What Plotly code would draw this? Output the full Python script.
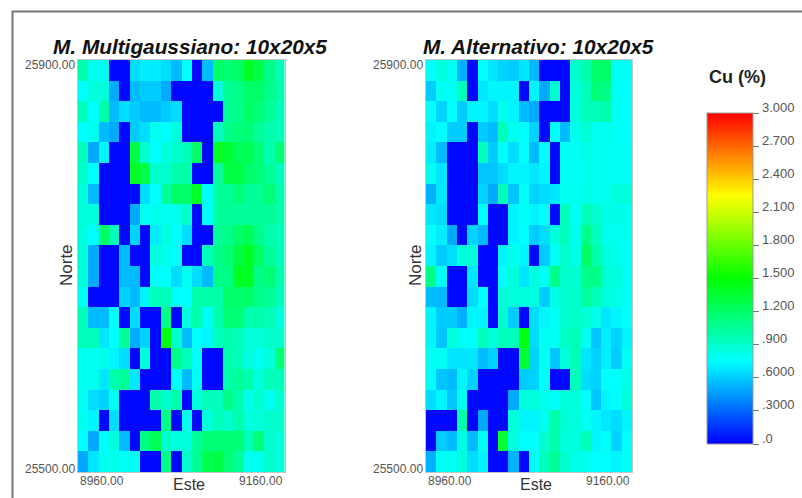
import plotly.graph_objects as go

B = 0.02
este = [8965 + 10 * i for i in range(20)]
norte = [25890 - 20 * i for i in range(20)]
cbar_ticks = [0, .3, .6, .9, 1.2, 1.5, 1.8, 2.1, 2.4, 2.7, 3.0]
cbar_labels = [".0", ".3000", ".6000", ".900", "1.200", "1.500", "1.800", "2.100", "2.400", "2.700", "3.000"]

multigaussiano = [
    [1.0, .8, .8, B, B, .65, .7, .7, .65, .55, .75, B, .55, 1.2, 1.15, 1.2, 1.4, 1.3, 1.1, .95],
    [.75, .85, .85, .5, B, .55, .6, .6, .5, B, B, B, B, .85, 1.05, 1.1, 1.2, 1.2, 1.1, 1.0],
    [.95, .75, 1.0, .55, .65, .6, .55, .55, .6, .65, B, B, B, B, 1.05, 1.1, 1.2, 1.15, 1.05, .95],
    [.75, .8, .55, .5, B, .6, .65, .8, .75, .85, B, B, B, .95, 1.1, 1.15, 1.15, 1.05, 1.0, .95],
    [.95, .5, .72, B, B, 1.3, .9, .75, .85, .9, .95, 1.2, B, 1.4, 1.35, 1.25, 1.25, 1.15, 1.0, 1.15],
    [.9, .75, B, B, B, 1.4, 1.3, .9, .9, 1.0, 1.0, B, B, 1.05, 1.3, 1.3, 1.2, 1.15, 1.05, .95],
    [.85, .55, B, B, B, B, .65, .75, 1.05, 1.2, 1.2, 1.4, .75, 1.05, 1.05, 1.15, 1.05, 1.05, 1.15, 1.0],
    [.85, .85, B, B, B, .5, .78, .8, .8, .8, .9, B, .75, 1.05, 1.05, 1.05, 1.05, 1.05, 1.05, 1.0],
    [.85, .75, 1.2, .95, B, .62, B, .7, .85, .75, .65, B, B, 1.05, 1.1, 1.2, 1.25, 1.1, 1.0, .95],
    [.85, .5, B, B, .55, B, B, .85, .8, .75, B, B, .95, 1.1, 1.15, 1.3, 1.4, 1.2, 1.05, .95],
    [.85, .5, B, B, .55, .55, B, .75, .75, .65, .8, .65, .55, 1.1, 1.1, 1.4, 1.4, 1.1, 1.15, 1.0],
    [.78, B, B, B, .62, .55, .72, .95, .95, .75, .75, 1.0, 1.0, 1.0, 1.2, 1.2, 1.2, 1.1, 1.05, .95],
    [.95, .55, .55, .75, B, .65, B, B, 1.1, B, .85, 1.0, .8, 1.0, 1.15, 1.15, 1.0, 1.0, .95, .85],
    [.95, .95, .68, .75, 1.05, .5, .62, B, 1.45, .9, .55, .75, .72, .95, 1.0, .95, .85, .85, .9, .9],
    [.8, .8, .8, .72, .65, B, .85, B, B, 1.1, .95, .75, B, B, 1.0, .95, .85, .8, .85, 1.15],
    [.8, .8, .68, 1.0, 1.05, .68, B, B, B, .75, .55, .78, B, B, 1.0, 1.05, 1.0, .85, .95, .95],
    [.8, .65, .62, .8, B, B, B, 1.0, .9, 1.0, B, .85, .95, .95, 1.1, 1.0, .8, .9, .8, .9],
    [.8, .72, B, .65, B, B, B, B, 1.1, B, .8, B, .85, .95, .9, 1.0, .85, .85, .9, .9],
    [.75, .5, .75, .85, .55, B, 1.1, 1.25, .9, .85, .85, 1.05, 1.15, 1.15, 1.15, 1.15, .95, 1.15, .9, .85],
    [.5, .68, .8, .8, .78, .78, B, B, 1.1, B, .9, 1.05, 1.25, 1.3, 1.15, 1.05, .8, .8, .9, .85],
]

alternativo = [
    [.75, .85, .78, .52, B, .75, .68, .62, .6, .68, .55, B, B, B, .9, 1.0, 1.2, 1.2, .78, .78],
    [.6, .78, .78, .95, B, .68, .72, .72, .72, B, .72, .5, .9, B, .85, .95, 1.15, 1.1, .78, .75],
    [.75, .62, .75, .6, .72, .72, .65, .8, .72, .55, .5, B, B, B, .85, .95, .95, 1.0, .78, .75],
    [.72, .75, .6, .6, B, .6, .55, .95, .8, .75, .62, B, .75, .55, .8, .88, .8, .8, .78, .75],
    [.7, .55, B, B, B, .95, .6, .75, .65, .75, .55, .75, B, .78, .78, .82, .8, .8, .78, .78],
    [.8, .68, B, B, B, .58, .58, .65, .72, .72, .68, .72, B, .78, .78, .8, .8, .8, .78, .78],
    [.52, .68, B, B, B, .62, .5, .95, .58, .78, .62, .65, .68, .8, .8, .82, .8, .8, .85, .85],
    [.68, .65, B, B, B, .75, B, B, .72, .78, .72, .75, B, .95, .78, .95, .9, .82, .82, .8],
    [.75, .7, .5, B, .62, .55, B, B, .72, .75, .6, .65, .85, .95, .8, 1.1, .95, .8, .8, .8],
    [.72, .6, .65, .85, .85, B, B, .72, .8, .72, B, .6, .78, .9, .82, 1.2, 1.0, .85, .8, .78],
    [1.1, .78, B, B, .68, B, B, .75, .85, .68, .85, .78, 1.1, .9, .9, 1.1, 1.1, .88, .85, .78],
    [.55, .55, B, B, .65, .75, B, .88, .85, .85, .85, .6, .82, .88, .9, 1.05, .95, .85, .82, .78],
    [.72, .6, .6, .52, .72, .72, B, .9, .6, B, .65, .72, .78, .88, .9, .88, .8, .68, .72, .75],
    [.72, .58, .85, .78, .75, .95, .85, .95, .95, 1.45, .65, .78, .78, .92, .95, .78, .58, .7, .62, .72],
    [.78, .78, .68, .68, .68, .55, .62, B, B, 1.35, .62, .78, .58, .85, .95, .68, .62, .7, .6, .78],
    [.75, .58, .55, .72, .62, B, B, B, B, .6, .62, .75, B, B, .95, .65, .62, .75, .75, .82],
    [.65, .72, .58, .78, B, B, B, B, .5, .85, .85, .8, .78, .85, .85, .75, .58, .72, .75, .85],
    [B, B, B, 1.0, B, .5, B, B, .85, .72, .72, .8, 1.0, .88, .85, .78, .72, .68, .65, .72],
    [B, .6, .55, .82, .55, .78, B, 1.35, .85, .75, .75, .9, 1.0, .85, .85, .95, .72, .78, .62, .75],
    [.52, .78, .78, .85, .65, .72, B, B, .52, B, .78, .95, 1.05, .9, .82, .8, .75, .75, .72, .78],
]

W, H = 802, 498
rainbow = [[0, "#0000ff"], [.25, "#00ffff"], [.5, "#00ff00"], [.75, "#ffff00"], [1, "#ff0000"]]
FONT = "Liberation Sans, Arial, sans-serif"
GREY = "#555555"
CB_TOP, CB_BOTTOM = 113, 444

fig = go.Figure()
fig.add_trace(go.Heatmap(x=este, y=norte, z=multigaussiano, zmin=0, zmax=3,
                         colorscale=rainbow, xaxis="x", yaxis="y", showscale=False))
fig.add_trace(go.Heatmap(
    x=este, y=norte, z=alternativo, zmin=0, zmax=3, colorscale=rainbow, xaxis="x2", yaxis="y2",
    colorbar=dict(
        x=707 / W, xanchor="left", xref="paper", y=1 - CB_BOTTOM / H, yanchor="bottom", yref="paper",
        len=(CB_BOTTOM - CB_TOP) / H, lenmode="fraction", thickness=46, thicknessmode="pixels",
        outlinecolor="#999999", outlinewidth=1, borderwidth=0, xpad=0, ypad=0,
        tickmode="array", tickvals=cbar_ticks, ticktext=cbar_labels, ticks="outside",
        ticklen=6, tickcolor="#777777", showticklabels=False,
    ),
))


def axes(x0, x1):
    common = dict(showgrid=False, zeroline=False, showticklabels=False, ticks="",
                  showline=True, linecolor="#c4c4c4", linewidth=1, mirror=True)
    return (dict(domain=[x0 / W, x1 / W], range=[8960, 9160], **common),
            dict(domain=[1 - 472 / H, 1 - 60 / H], range=[25500, 25900], **common))


xa, ya = axes(78, 284.5)
xb, yb = axes(426, 632)
fig.update_layout(
    width=W, height=H, margin=dict(l=0, r=0, t=0, b=0), autosize=False,
    paper_bgcolor="#ffffff", plot_bgcolor="#ffffff", showlegend=False,
    xaxis={**xa, "anchor": "y"}, yaxis={**ya, "anchor": "x"},
    xaxis2={**xb, "anchor": "y2"}, yaxis2={**yb, "anchor": "x2"},
)

ann = []


def text(s, x, y, size=10, color=GREY, anchor="center", va="middle", angle=0, yshift=0, **kw):
    ann.append(dict(text=s, x=x / W if "xref" not in kw else x, y=1 - y / H if "yref" not in kw else y,
                    xref=kw.get("xref", "paper"), yref=kw.get("yref", "paper"),
                    showarrow=False, xanchor=anchor, yanchor=va, textangle=angle, yshift=yshift,
                    font=dict(family=FONT, size=size, color=color)))


text("<b><i>M. Multigaussiano: 10x20x5</i></b>", 190, 47, size=20.8, color="#111111")
text("<b><i>M. Alternativo: 10x20x5</i></b>", 538, 47, size=20.8, color="#111111")
text("<b>Cu (%)</b>", 737, 77, size=18, color="#222222")

for xname, yname, left, nx, ex in (("x", "y", 77, 66, 189), ("x2", "y2", 425, 415, 536)):
    text("25900.00", left, 25900, size=12, anchor="right", yshift=-5, yref=yname)
    text("25500.00", left, 25500, size=12, anchor="right", yshift=3, yref=yname)
    text("8960.00", 8960, 481, size=12, anchor="left", xref=xname)
    text("9160.00", 9160, 481, size=12, anchor="right", xref=xname)
    text("Norte", nx, 265, size=17, color="#333333", angle=-90)
    text("Este", ex, 484, size=16, color="#333333")

for value, label in zip(cbar_ticks, cbar_labels):
    frac = value / cbar_ticks[-1]
    text(label, 760, CB_BOTTOM - frac * (CB_BOTTOM - CB_TOP) - 6, size=13, anchor="left")

fig.update_layout(annotations=ann)
fig.add_shape(type="rect", xref="paper", yref="paper", x0=12.5 / W, x1=1.2, y0=-0.2, y1=1 - 11.5 / H,
              line=dict(color="#777777", width=2), fillcolor="rgba(0,0,0,0)", layer="above")

fig.write_html("out.html", config={"displayModeBar": False},
               post_script="document.body.style.margin='0';document.body.style.overflow='hidden';")
